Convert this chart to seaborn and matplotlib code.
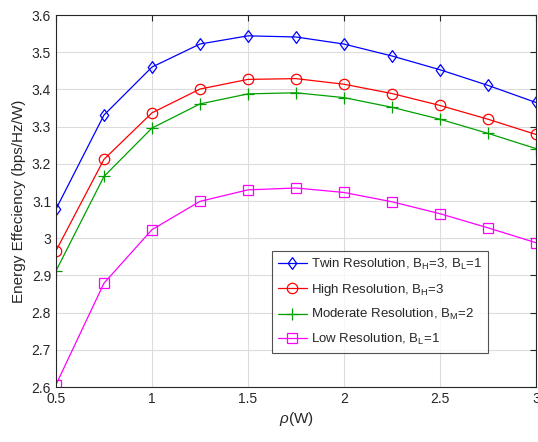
import numpy as np
import pandas as pd
import matplotlib
matplotlib.use("Agg")
import matplotlib.pyplot as plt
import seaborn as sns
from matplotlib.ticker import FuncFormatter

rho = [0.5, 0.75, 1.0, 1.25, 1.5, 1.75, 2.0, 2.25, 2.5, 2.75, 3.0]
twin = [3.078, 3.331, 3.460, 3.522, 3.544, 3.541, 3.522, 3.490, 3.453, 3.411, 3.365]
high = [2.966, 3.212, 3.337, 3.401, 3.427, 3.429, 3.414, 3.389, 3.357, 3.320, 3.279]
moderate = [2.912, 3.166, 3.296, 3.361, 3.388, 3.391, 3.378, 3.352, 3.320, 3.282, 3.241]
low = [2.606, 2.879, 3.023, 3.099, 3.130, 3.135, 3.123, 3.098, 3.066, 3.028, 2.988]

labels = [r'Twin Resolution, B$_{\mathrm{H}}$=3, B$_{\mathrm{L}}$=1',
          r'High Resolution, B$_{\mathrm{H}}$=3',
          r'Moderate Resolution, B$_{\mathrm{M}}$=2',
          r'Low Resolution, B$_{\mathrm{L}}$=1']
colors = ['#0000ff', '#ff0000', '#00a000', '#ff00ff']
diamond = [(0, 1), (0.72, 0), (0, -1), (-0.72, 0), (0, 1)]
markers = [diamond, 'o', '+', 's']
msizes = [8.5, 7.5, 8, 6.5]

sns.set_style("white")
plt.rcParams['font.family'] = ['Liberation Sans', 'DejaVu Sans']
plt.rcParams['mathtext.fontset'] = 'custom'
plt.rcParams['mathtext.rm'] = 'Liberation Sans'
plt.rcParams['mathtext.it'] = 'Liberation Sans:italic'
plt.rcParams['mathtext.sf'] = 'Liberation Sans'

fig = plt.figure(figsize=(5.38, 4.42), dpi=100)
ax = fig.add_axes([0.104, 0.1244, 0.892, 0.8416])

series = [twin, high, moderate, low]
for vals, lab, c, m, ms in zip(series, labels, colors, markers, msizes):
    df = pd.DataFrame({'rho': rho, 'val': vals})
    sns.lineplot(data=df, x='rho', y='val', ax=ax, color=c, marker=m,
                 markersize=ms, markerfacecolor='none',
                 markeredgecolor=c, markeredgewidth=0.9, linewidth=0.9,
                 label=lab)

ax.set_xlim(0.5, 3)
ax.set_ylim(2.6, 3.6)
ax.set_xticks([0.5, 1, 1.5, 2, 2.5, 3])
ax.set_yticks(np.round(np.arange(2.6, 3.61, 0.1), 1))
ax.xaxis.set_major_formatter(FuncFormatter(lambda v, p: f'{v:g}'))
ax.yaxis.set_major_formatter(FuncFormatter(lambda v, p: f'{round(v, 1):g}'))
ax.grid(True, color='#dcdcdc', linewidth=0.8)
ax.tick_params(direction='in', length=4, width=0.8, labelsize=10,
               top=True, right=True, colors='#262626', labelcolor='#262626')
for s in ax.spines.values():
    s.set_visible(True)
    s.set_color('#262626')
    s.set_linewidth(0.8)
ax.set_xlabel(r'$\it{\rho}$(W)', fontsize=11, color='#262626', labelpad=3)
ax.set_ylabel('Energy Effeciency (bps/Hz/W)', fontsize=11, color='#262626', labelpad=4)

leg = ax.legend(loc='lower left', bbox_to_anchor=(0.45, 0.092), fontsize=9.5,
                frameon=True, fancybox=False, edgecolor='#262626',
                handlelength=2.2, borderpad=0.45, labelspacing=0.72,
                handletextpad=0.3, borderaxespad=0)
leg.get_frame().set_linewidth(0.8)

fig.savefig('out.png', dpi=100)
